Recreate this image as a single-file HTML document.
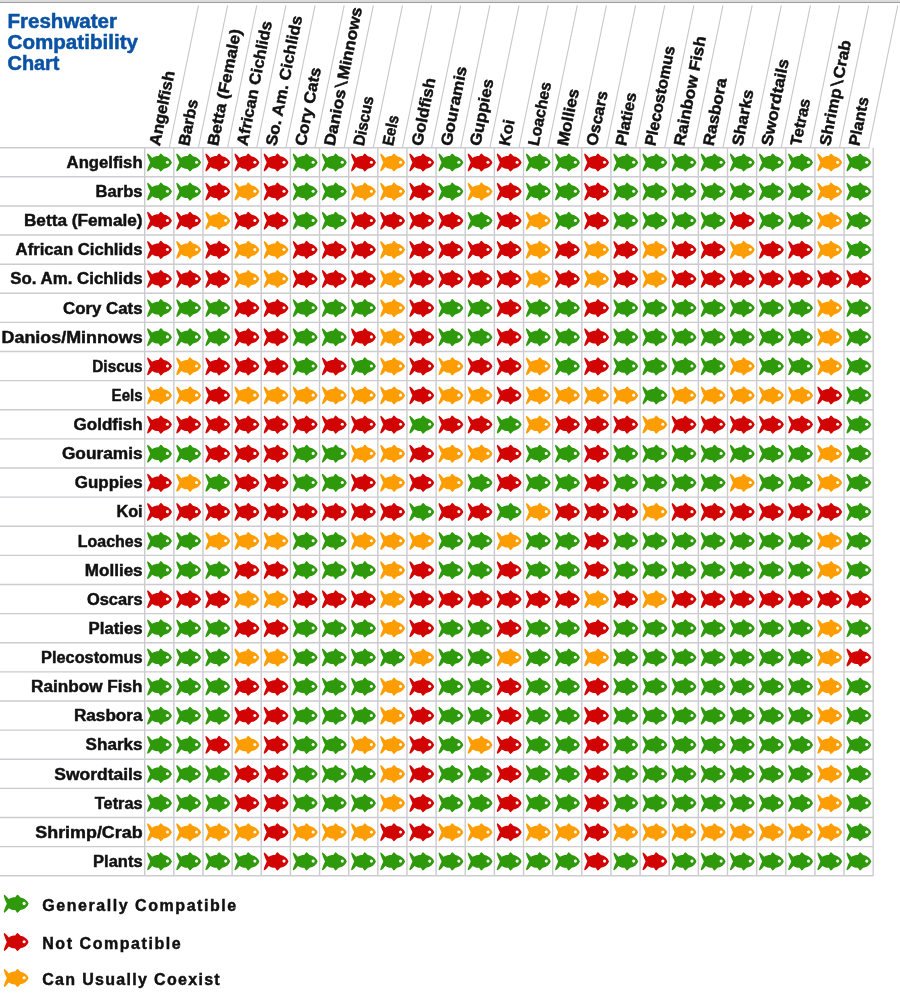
<!DOCTYPE html><html><head><meta charset="utf-8"><style>html,body{margin:0;padding:0;background:#fff;}svg{display:block;filter:blur(0.3px);}text{font-family:"Liberation Sans",sans-serif;font-weight:bold;}</style></head><body>
<svg width="900" height="1000" viewBox="0 0 900 1000">
<defs><g id="f"><path d="M0.3,-8.95 C1.9,-7.9 3.3,-6.2 4.6,-4.6 C6.4,-5.9 8.5,-6.4 11,-6.4 L12.7,-8.8 Q13.3,-9.4 14.0,-8.6 L16.3,-6.3 C20.2,-5.6 23.2,-3.4 24.4,0 C23.2,3.4 20.2,5.6 16.3,6.3 L14.0,8.6 Q13.3,9.4 12.7,8.8 L11,6.4 C8.5,6.4 6.4,5.9 4.6,4.6 C3.3,6.2 1.9,7.9 0.3,8.95 Q-0.5,8.9 -0.4,7.8 C0.3,5 1.6,2.2 2.6,0 C1.6,-2.2 0.3,-5 -0.4,-7.8 Q-0.5,-8.9 0.3,-8.95 Z"/><circle cx="19.9" cy="-0.3" r="1.55" fill="#fff"/></g></defs>
<rect x="0" y="0" width="900" height="2" fill="#dcdcdc"/><rect x="0" y="2" width="900" height="1" fill="#9c9c9c"/>
<g fill="#0a52a3" stroke="#0a52a3" stroke-width="0.5" font-size="19.5">
<text x="7.5" y="28" textLength="109.5" lengthAdjust="spacingAndGlyphs">Freshwater</text>
<text x="7.5" y="49" textLength="130.5" lengthAdjust="spacingAndGlyphs">Compatibility</text>
<text x="7.5" y="70" textLength="52" lengthAdjust="spacingAndGlyphs">Chart</text>
</g>
<g stroke="#cbcbd0" stroke-width="1.4" fill="none">
<line x1="0" y1="147.70" x2="869.50" y2="147.70"/>
<line x1="0" y1="176.82" x2="873.20" y2="176.82"/>
<line x1="0" y1="205.94" x2="873.20" y2="205.94"/>
<line x1="0" y1="235.06" x2="873.20" y2="235.06"/>
<line x1="0" y1="264.18" x2="873.20" y2="264.18"/>
<line x1="0" y1="293.30" x2="873.20" y2="293.30"/>
<line x1="0" y1="322.42" x2="873.20" y2="322.42"/>
<line x1="0" y1="351.54" x2="873.20" y2="351.54"/>
<line x1="0" y1="380.66" x2="873.20" y2="380.66"/>
<line x1="0" y1="409.78" x2="873.20" y2="409.78"/>
<line x1="0" y1="438.90" x2="873.20" y2="438.90"/>
<line x1="0" y1="468.02" x2="873.20" y2="468.02"/>
<line x1="0" y1="497.14" x2="873.20" y2="497.14"/>
<line x1="0" y1="526.26" x2="873.20" y2="526.26"/>
<line x1="0" y1="555.38" x2="873.20" y2="555.38"/>
<line x1="0" y1="584.50" x2="873.20" y2="584.50"/>
<line x1="0" y1="613.62" x2="873.20" y2="613.62"/>
<line x1="0" y1="642.74" x2="873.20" y2="642.74"/>
<line x1="0" y1="671.86" x2="873.20" y2="671.86"/>
<line x1="0" y1="700.98" x2="873.20" y2="700.98"/>
<line x1="0" y1="730.10" x2="873.20" y2="730.10"/>
<line x1="0" y1="759.22" x2="873.20" y2="759.22"/>
<line x1="0" y1="788.34" x2="873.20" y2="788.34"/>
<line x1="0" y1="817.46" x2="873.20" y2="817.46"/>
<line x1="0" y1="846.58" x2="873.20" y2="846.58"/>
<line x1="0" y1="875.70" x2="873.20" y2="875.70"/>
<line x1="144.70" y1="147.70" x2="144.70" y2="875.70"/>
<line x1="173.84" y1="147.70" x2="173.84" y2="875.70"/>
<line x1="202.98" y1="147.70" x2="202.98" y2="875.70"/>
<line x1="232.12" y1="147.70" x2="232.12" y2="875.70"/>
<line x1="261.26" y1="147.70" x2="261.26" y2="875.70"/>
<line x1="290.40" y1="147.70" x2="290.40" y2="875.70"/>
<line x1="319.54" y1="147.70" x2="319.54" y2="875.70"/>
<line x1="348.68" y1="147.70" x2="348.68" y2="875.70"/>
<line x1="377.82" y1="147.70" x2="377.82" y2="875.70"/>
<line x1="406.96" y1="147.70" x2="406.96" y2="875.70"/>
<line x1="436.10" y1="147.70" x2="436.10" y2="875.70"/>
<line x1="465.24" y1="147.70" x2="465.24" y2="875.70"/>
<line x1="494.38" y1="147.70" x2="494.38" y2="875.70"/>
<line x1="523.52" y1="147.70" x2="523.52" y2="875.70"/>
<line x1="552.66" y1="147.70" x2="552.66" y2="875.70"/>
<line x1="581.80" y1="147.70" x2="581.80" y2="875.70"/>
<line x1="610.94" y1="147.70" x2="610.94" y2="875.70"/>
<line x1="640.08" y1="147.70" x2="640.08" y2="875.70"/>
<line x1="669.22" y1="147.70" x2="669.22" y2="875.70"/>
<line x1="698.36" y1="147.70" x2="698.36" y2="875.70"/>
<line x1="727.50" y1="147.70" x2="727.50" y2="875.70"/>
<line x1="756.64" y1="147.70" x2="756.64" y2="875.70"/>
<line x1="785.78" y1="147.70" x2="785.78" y2="875.70"/>
<line x1="814.92" y1="147.70" x2="814.92" y2="875.70"/>
<line x1="844.06" y1="147.70" x2="844.06" y2="875.70"/>
<line x1="873.20" y1="147.70" x2="873.20" y2="875.70"/>
</g>
<g stroke="#c8c8c8" stroke-width="1.1">
<line x1="169.30" y1="147.70" x2="198.50" y2="5.3"/>
<line x1="198.44" y1="147.70" x2="227.64" y2="5.3"/>
<line x1="227.58" y1="147.70" x2="256.78" y2="5.3"/>
<line x1="256.72" y1="147.70" x2="285.92" y2="5.3"/>
<line x1="285.86" y1="147.70" x2="315.06" y2="5.3"/>
<line x1="315.00" y1="147.70" x2="344.20" y2="5.3"/>
<line x1="344.14" y1="147.70" x2="373.34" y2="5.3"/>
<line x1="373.28" y1="147.70" x2="402.48" y2="5.3"/>
<line x1="402.42" y1="147.70" x2="431.62" y2="5.3"/>
<line x1="431.56" y1="147.70" x2="460.76" y2="5.3"/>
<line x1="460.70" y1="147.70" x2="489.90" y2="5.3"/>
<line x1="489.84" y1="147.70" x2="519.04" y2="5.3"/>
<line x1="518.98" y1="147.70" x2="548.18" y2="5.3"/>
<line x1="548.12" y1="147.70" x2="577.32" y2="5.3"/>
<line x1="577.26" y1="147.70" x2="606.46" y2="5.3"/>
<line x1="606.40" y1="147.70" x2="635.60" y2="5.3"/>
<line x1="635.54" y1="147.70" x2="664.74" y2="5.3"/>
<line x1="664.68" y1="147.70" x2="693.88" y2="5.3"/>
<line x1="693.82" y1="147.70" x2="723.02" y2="5.3"/>
<line x1="722.96" y1="147.70" x2="752.16" y2="5.3"/>
<line x1="752.10" y1="147.70" x2="781.30" y2="5.3"/>
<line x1="781.24" y1="147.70" x2="810.44" y2="5.3"/>
<line x1="810.38" y1="147.70" x2="839.58" y2="5.3"/>
<line x1="839.52" y1="147.70" x2="868.72" y2="5.3"/>
<line x1="868.66" y1="147.70" x2="897.86" y2="5.3"/>
</g>
<g fill="#111" stroke="#111" stroke-width="0.45" font-size="15.8" text-anchor="end">
<text x="142.6" y="168.00" textLength="76" lengthAdjust="spacingAndGlyphs">Angelfish</text>
<text x="142.6" y="197.12" textLength="47" lengthAdjust="spacingAndGlyphs">Barbs</text>
<text x="142.6" y="226.24" textLength="118.7" lengthAdjust="spacingAndGlyphs">Betta (Female)</text>
<text x="142.6" y="255.36" textLength="127" lengthAdjust="spacingAndGlyphs">African Cichlids</text>
<text x="142.6" y="284.48" textLength="132.3" lengthAdjust="spacingAndGlyphs">So. Am. Cichlids</text>
<text x="142.6" y="313.60" textLength="79.5" lengthAdjust="spacingAndGlyphs">Cory Cats</text>
<text x="142.6" y="342.72" textLength="141" lengthAdjust="spacingAndGlyphs">Danios/Minnows</text>
<text x="142.6" y="371.84" textLength="50.3" lengthAdjust="spacingAndGlyphs">Discus</text>
<text x="142.6" y="400.96" textLength="31" lengthAdjust="spacingAndGlyphs">Eels</text>
<text x="142.6" y="430.08" textLength="69" lengthAdjust="spacingAndGlyphs">Goldfish</text>
<text x="142.6" y="459.20" textLength="80.7" lengthAdjust="spacingAndGlyphs">Gouramis</text>
<text x="142.6" y="488.32" textLength="67.8" lengthAdjust="spacingAndGlyphs">Guppies</text>
<text x="142.6" y="517.44" textLength="26.2" lengthAdjust="spacingAndGlyphs">Koi</text>
<text x="142.6" y="546.56" textLength="64.8" lengthAdjust="spacingAndGlyphs">Loaches</text>
<text x="142.6" y="575.68" textLength="57.8" lengthAdjust="spacingAndGlyphs">Mollies</text>
<text x="142.6" y="604.80" textLength="55.7" lengthAdjust="spacingAndGlyphs">Oscars</text>
<text x="142.6" y="633.92" textLength="54" lengthAdjust="spacingAndGlyphs">Platies</text>
<text x="142.6" y="663.04" textLength="101.5" lengthAdjust="spacingAndGlyphs">Plecostomus</text>
<text x="142.6" y="692.16" textLength="111.5" lengthAdjust="spacingAndGlyphs">Rainbow Fish</text>
<text x="142.6" y="721.28" textLength="68.7" lengthAdjust="spacingAndGlyphs">Rasbora</text>
<text x="142.6" y="750.40" textLength="57" lengthAdjust="spacingAndGlyphs">Sharks</text>
<text x="142.6" y="779.52" textLength="88.3" lengthAdjust="spacingAndGlyphs">Swordtails</text>
<text x="142.6" y="808.64" textLength="47.8" lengthAdjust="spacingAndGlyphs">Tetras</text>
<text x="142.6" y="837.76" textLength="107.3" lengthAdjust="spacingAndGlyphs">Shrimp/Crab</text>
<text x="142.6" y="866.88" textLength="49.5" lengthAdjust="spacingAndGlyphs">Plants</text>
</g>
<g fill="#111" stroke="#111" stroke-width="0.45" font-size="15.8">
<text transform="translate(159.77,146.6) rotate(-78.7)" textLength="76" lengthAdjust="spacingAndGlyphs">Angelfish</text>
<text transform="translate(188.91,146.6) rotate(-78.7)" textLength="47" lengthAdjust="spacingAndGlyphs">Barbs</text>
<text transform="translate(218.05,146.6) rotate(-78.7)" textLength="118.7" lengthAdjust="spacingAndGlyphs">Betta (Female)</text>
<text transform="translate(247.19,146.6) rotate(-78.7)" textLength="127" lengthAdjust="spacingAndGlyphs">African Cichlids</text>
<text transform="translate(276.33,146.6) rotate(-78.7)" textLength="132.3" lengthAdjust="spacingAndGlyphs">So. Am. Cichlids</text>
<text transform="translate(305.47,146.6) rotate(-78.7)" textLength="79.5" lengthAdjust="spacingAndGlyphs">Cory Cats</text>
<text transform="translate(334.61,146.6) rotate(-78.7)" textLength="141" lengthAdjust="spacingAndGlyphs">Danios<tspan font-family="Liberation Mono">\</tspan>Minnows</text>
<text transform="translate(363.75,146.6) rotate(-78.7)" textLength="50.3" lengthAdjust="spacingAndGlyphs">Discus</text>
<text transform="translate(392.89,146.6) rotate(-78.7)" textLength="31" lengthAdjust="spacingAndGlyphs">Eels</text>
<text transform="translate(422.03,146.6) rotate(-78.7)" textLength="69" lengthAdjust="spacingAndGlyphs">Goldfish</text>
<text transform="translate(451.17,146.6) rotate(-78.7)" textLength="80.7" lengthAdjust="spacingAndGlyphs">Gouramis</text>
<text transform="translate(480.31,146.6) rotate(-78.7)" textLength="67.8" lengthAdjust="spacingAndGlyphs">Guppies</text>
<text transform="translate(509.45,146.6) rotate(-78.7)" textLength="26.2" lengthAdjust="spacingAndGlyphs">Koi</text>
<text transform="translate(538.59,146.6) rotate(-78.7)" textLength="64.8" lengthAdjust="spacingAndGlyphs">Loaches</text>
<text transform="translate(567.73,146.6) rotate(-78.7)" textLength="57.8" lengthAdjust="spacingAndGlyphs">Mollies</text>
<text transform="translate(596.87,146.6) rotate(-78.7)" textLength="55.7" lengthAdjust="spacingAndGlyphs">Oscars</text>
<text transform="translate(626.01,146.6) rotate(-78.7)" textLength="54" lengthAdjust="spacingAndGlyphs">Platies</text>
<text transform="translate(655.15,146.6) rotate(-78.7)" textLength="101.5" lengthAdjust="spacingAndGlyphs">Plecostomus</text>
<text transform="translate(684.29,146.6) rotate(-78.7)" textLength="111.5" lengthAdjust="spacingAndGlyphs">Rainbow Fish</text>
<text transform="translate(713.43,146.6) rotate(-78.7)" textLength="68.7" lengthAdjust="spacingAndGlyphs">Rasbora</text>
<text transform="translate(742.57,146.6) rotate(-78.7)" textLength="57" lengthAdjust="spacingAndGlyphs">Sharks</text>
<text transform="translate(771.71,146.6) rotate(-78.7)" textLength="88.3" lengthAdjust="spacingAndGlyphs">Swordtails</text>
<text transform="translate(800.85,146.6) rotate(-78.7)" textLength="47.8" lengthAdjust="spacingAndGlyphs">Tetras</text>
<text transform="translate(829.99,146.6) rotate(-78.7)" textLength="107.3" lengthAdjust="spacingAndGlyphs">Shrimp<tspan font-family="Liberation Mono">\</tspan>Crab</text>
<text transform="translate(859.13,146.6) rotate(-78.7)" textLength="49.5" lengthAdjust="spacingAndGlyphs">Plants</text>
</g>
<use href="#f" x="147.55" y="162.50" fill="#2f990c"/>
<use href="#f" x="176.69" y="162.50" fill="#2f990c"/>
<use href="#f" x="205.83" y="162.50" fill="#d20303"/>
<use href="#f" x="234.97" y="162.50" fill="#d20303"/>
<use href="#f" x="264.11" y="162.50" fill="#d20303"/>
<use href="#f" x="293.25" y="162.50" fill="#2f990c"/>
<use href="#f" x="322.39" y="162.50" fill="#2f990c"/>
<use href="#f" x="351.53" y="162.50" fill="#d20303"/>
<use href="#f" x="380.67" y="162.50" fill="#fd9d02"/>
<use href="#f" x="409.81" y="162.50" fill="#d20303"/>
<use href="#f" x="438.95" y="162.50" fill="#2f990c"/>
<use href="#f" x="468.09" y="162.50" fill="#d20303"/>
<use href="#f" x="497.23" y="162.50" fill="#d20303"/>
<use href="#f" x="526.37" y="162.50" fill="#2f990c"/>
<use href="#f" x="555.51" y="162.50" fill="#2f990c"/>
<use href="#f" x="584.65" y="162.50" fill="#d20303"/>
<use href="#f" x="613.79" y="162.50" fill="#2f990c"/>
<use href="#f" x="642.93" y="162.50" fill="#2f990c"/>
<use href="#f" x="672.07" y="162.50" fill="#2f990c"/>
<use href="#f" x="701.21" y="162.50" fill="#2f990c"/>
<use href="#f" x="730.35" y="162.50" fill="#2f990c"/>
<use href="#f" x="759.49" y="162.50" fill="#2f990c"/>
<use href="#f" x="788.63" y="162.50" fill="#2f990c"/>
<use href="#f" x="817.77" y="162.50" fill="#fd9d02"/>
<use href="#f" x="846.91" y="162.50" fill="#2f990c"/>
<use href="#f" x="147.55" y="191.62" fill="#2f990c"/>
<use href="#f" x="176.69" y="191.62" fill="#2f990c"/>
<use href="#f" x="205.83" y="191.62" fill="#d20303"/>
<use href="#f" x="234.97" y="191.62" fill="#fd9d02"/>
<use href="#f" x="264.11" y="191.62" fill="#d20303"/>
<use href="#f" x="293.25" y="191.62" fill="#2f990c"/>
<use href="#f" x="322.39" y="191.62" fill="#2f990c"/>
<use href="#f" x="351.53" y="191.62" fill="#fd9d02"/>
<use href="#f" x="380.67" y="191.62" fill="#fd9d02"/>
<use href="#f" x="409.81" y="191.62" fill="#d20303"/>
<use href="#f" x="438.95" y="191.62" fill="#2f990c"/>
<use href="#f" x="468.09" y="191.62" fill="#fd9d02"/>
<use href="#f" x="497.23" y="191.62" fill="#d20303"/>
<use href="#f" x="526.37" y="191.62" fill="#2f990c"/>
<use href="#f" x="555.51" y="191.62" fill="#2f990c"/>
<use href="#f" x="584.65" y="191.62" fill="#d20303"/>
<use href="#f" x="613.79" y="191.62" fill="#2f990c"/>
<use href="#f" x="642.93" y="191.62" fill="#2f990c"/>
<use href="#f" x="672.07" y="191.62" fill="#2f990c"/>
<use href="#f" x="701.21" y="191.62" fill="#2f990c"/>
<use href="#f" x="730.35" y="191.62" fill="#2f990c"/>
<use href="#f" x="759.49" y="191.62" fill="#2f990c"/>
<use href="#f" x="788.63" y="191.62" fill="#2f990c"/>
<use href="#f" x="817.77" y="191.62" fill="#fd9d02"/>
<use href="#f" x="846.91" y="191.62" fill="#2f990c"/>
<use href="#f" x="147.55" y="220.74" fill="#d20303"/>
<use href="#f" x="176.69" y="220.74" fill="#d20303"/>
<use href="#f" x="205.83" y="220.74" fill="#fd9d02"/>
<use href="#f" x="234.97" y="220.74" fill="#d20303"/>
<use href="#f" x="264.11" y="220.74" fill="#d20303"/>
<use href="#f" x="293.25" y="220.74" fill="#2f990c"/>
<use href="#f" x="322.39" y="220.74" fill="#2f990c"/>
<use href="#f" x="351.53" y="220.74" fill="#d20303"/>
<use href="#f" x="380.67" y="220.74" fill="#d20303"/>
<use href="#f" x="409.81" y="220.74" fill="#d20303"/>
<use href="#f" x="438.95" y="220.74" fill="#d20303"/>
<use href="#f" x="468.09" y="220.74" fill="#2f990c"/>
<use href="#f" x="497.23" y="220.74" fill="#d20303"/>
<use href="#f" x="526.37" y="220.74" fill="#fd9d02"/>
<use href="#f" x="555.51" y="220.74" fill="#2f990c"/>
<use href="#f" x="584.65" y="220.74" fill="#d20303"/>
<use href="#f" x="613.79" y="220.74" fill="#2f990c"/>
<use href="#f" x="642.93" y="220.74" fill="#2f990c"/>
<use href="#f" x="672.07" y="220.74" fill="#2f990c"/>
<use href="#f" x="701.21" y="220.74" fill="#2f990c"/>
<use href="#f" x="730.35" y="220.74" fill="#d20303"/>
<use href="#f" x="759.49" y="220.74" fill="#2f990c"/>
<use href="#f" x="788.63" y="220.74" fill="#2f990c"/>
<use href="#f" x="817.77" y="220.74" fill="#fd9d02"/>
<use href="#f" x="846.91" y="220.74" fill="#2f990c"/>
<use href="#f" x="147.55" y="249.86" fill="#d20303"/>
<use href="#f" x="176.69" y="249.86" fill="#fd9d02"/>
<use href="#f" x="205.83" y="249.86" fill="#d20303"/>
<use href="#f" x="234.97" y="249.86" fill="#fd9d02"/>
<use href="#f" x="264.11" y="249.86" fill="#fd9d02"/>
<use href="#f" x="293.25" y="249.86" fill="#d20303"/>
<use href="#f" x="322.39" y="249.86" fill="#d20303"/>
<use href="#f" x="351.53" y="249.86" fill="#d20303"/>
<use href="#f" x="380.67" y="249.86" fill="#fd9d02"/>
<use href="#f" x="409.81" y="249.86" fill="#d20303"/>
<use href="#f" x="438.95" y="249.86" fill="#d20303"/>
<use href="#f" x="468.09" y="249.86" fill="#d20303"/>
<use href="#f" x="497.23" y="249.86" fill="#d20303"/>
<use href="#f" x="526.37" y="249.86" fill="#fd9d02"/>
<use href="#f" x="555.51" y="249.86" fill="#d20303"/>
<use href="#f" x="584.65" y="249.86" fill="#fd9d02"/>
<use href="#f" x="613.79" y="249.86" fill="#d20303"/>
<use href="#f" x="642.93" y="249.86" fill="#fd9d02"/>
<use href="#f" x="672.07" y="249.86" fill="#d20303"/>
<use href="#f" x="701.21" y="249.86" fill="#d20303"/>
<use href="#f" x="730.35" y="249.86" fill="#fd9d02"/>
<use href="#f" x="759.49" y="249.86" fill="#d20303"/>
<use href="#f" x="788.63" y="249.86" fill="#d20303"/>
<use href="#f" x="817.77" y="249.86" fill="#fd9d02"/>
<use href="#f" x="846.91" y="249.86" fill="#2f990c"/>
<use href="#f" x="147.55" y="278.98" fill="#d20303"/>
<use href="#f" x="176.69" y="278.98" fill="#d20303"/>
<use href="#f" x="205.83" y="278.98" fill="#d20303"/>
<use href="#f" x="234.97" y="278.98" fill="#fd9d02"/>
<use href="#f" x="264.11" y="278.98" fill="#fd9d02"/>
<use href="#f" x="293.25" y="278.98" fill="#d20303"/>
<use href="#f" x="322.39" y="278.98" fill="#d20303"/>
<use href="#f" x="351.53" y="278.98" fill="#d20303"/>
<use href="#f" x="380.67" y="278.98" fill="#fd9d02"/>
<use href="#f" x="409.81" y="278.98" fill="#d20303"/>
<use href="#f" x="438.95" y="278.98" fill="#d20303"/>
<use href="#f" x="468.09" y="278.98" fill="#d20303"/>
<use href="#f" x="497.23" y="278.98" fill="#d20303"/>
<use href="#f" x="526.37" y="278.98" fill="#fd9d02"/>
<use href="#f" x="555.51" y="278.98" fill="#d20303"/>
<use href="#f" x="584.65" y="278.98" fill="#fd9d02"/>
<use href="#f" x="613.79" y="278.98" fill="#d20303"/>
<use href="#f" x="642.93" y="278.98" fill="#fd9d02"/>
<use href="#f" x="672.07" y="278.98" fill="#d20303"/>
<use href="#f" x="701.21" y="278.98" fill="#d20303"/>
<use href="#f" x="730.35" y="278.98" fill="#d20303"/>
<use href="#f" x="759.49" y="278.98" fill="#d20303"/>
<use href="#f" x="788.63" y="278.98" fill="#d20303"/>
<use href="#f" x="817.77" y="278.98" fill="#d20303"/>
<use href="#f" x="846.91" y="278.98" fill="#d20303"/>
<use href="#f" x="147.55" y="308.10" fill="#2f990c"/>
<use href="#f" x="176.69" y="308.10" fill="#2f990c"/>
<use href="#f" x="205.83" y="308.10" fill="#2f990c"/>
<use href="#f" x="234.97" y="308.10" fill="#d20303"/>
<use href="#f" x="264.11" y="308.10" fill="#d20303"/>
<use href="#f" x="293.25" y="308.10" fill="#2f990c"/>
<use href="#f" x="322.39" y="308.10" fill="#2f990c"/>
<use href="#f" x="351.53" y="308.10" fill="#2f990c"/>
<use href="#f" x="380.67" y="308.10" fill="#fd9d02"/>
<use href="#f" x="409.81" y="308.10" fill="#d20303"/>
<use href="#f" x="438.95" y="308.10" fill="#2f990c"/>
<use href="#f" x="468.09" y="308.10" fill="#2f990c"/>
<use href="#f" x="497.23" y="308.10" fill="#d20303"/>
<use href="#f" x="526.37" y="308.10" fill="#2f990c"/>
<use href="#f" x="555.51" y="308.10" fill="#2f990c"/>
<use href="#f" x="584.65" y="308.10" fill="#d20303"/>
<use href="#f" x="613.79" y="308.10" fill="#2f990c"/>
<use href="#f" x="642.93" y="308.10" fill="#2f990c"/>
<use href="#f" x="672.07" y="308.10" fill="#2f990c"/>
<use href="#f" x="701.21" y="308.10" fill="#2f990c"/>
<use href="#f" x="730.35" y="308.10" fill="#2f990c"/>
<use href="#f" x="759.49" y="308.10" fill="#2f990c"/>
<use href="#f" x="788.63" y="308.10" fill="#2f990c"/>
<use href="#f" x="817.77" y="308.10" fill="#fd9d02"/>
<use href="#f" x="846.91" y="308.10" fill="#2f990c"/>
<use href="#f" x="147.55" y="337.22" fill="#2f990c"/>
<use href="#f" x="176.69" y="337.22" fill="#2f990c"/>
<use href="#f" x="205.83" y="337.22" fill="#2f990c"/>
<use href="#f" x="234.97" y="337.22" fill="#d20303"/>
<use href="#f" x="264.11" y="337.22" fill="#d20303"/>
<use href="#f" x="293.25" y="337.22" fill="#2f990c"/>
<use href="#f" x="322.39" y="337.22" fill="#2f990c"/>
<use href="#f" x="351.53" y="337.22" fill="#d20303"/>
<use href="#f" x="380.67" y="337.22" fill="#fd9d02"/>
<use href="#f" x="409.81" y="337.22" fill="#d20303"/>
<use href="#f" x="438.95" y="337.22" fill="#2f990c"/>
<use href="#f" x="468.09" y="337.22" fill="#2f990c"/>
<use href="#f" x="497.23" y="337.22" fill="#d20303"/>
<use href="#f" x="526.37" y="337.22" fill="#2f990c"/>
<use href="#f" x="555.51" y="337.22" fill="#2f990c"/>
<use href="#f" x="584.65" y="337.22" fill="#d20303"/>
<use href="#f" x="613.79" y="337.22" fill="#2f990c"/>
<use href="#f" x="642.93" y="337.22" fill="#2f990c"/>
<use href="#f" x="672.07" y="337.22" fill="#2f990c"/>
<use href="#f" x="701.21" y="337.22" fill="#2f990c"/>
<use href="#f" x="730.35" y="337.22" fill="#2f990c"/>
<use href="#f" x="759.49" y="337.22" fill="#2f990c"/>
<use href="#f" x="788.63" y="337.22" fill="#2f990c"/>
<use href="#f" x="817.77" y="337.22" fill="#fd9d02"/>
<use href="#f" x="846.91" y="337.22" fill="#2f990c"/>
<use href="#f" x="147.55" y="366.34" fill="#d20303"/>
<use href="#f" x="176.69" y="366.34" fill="#fd9d02"/>
<use href="#f" x="205.83" y="366.34" fill="#d20303"/>
<use href="#f" x="234.97" y="366.34" fill="#d20303"/>
<use href="#f" x="264.11" y="366.34" fill="#d20303"/>
<use href="#f" x="293.25" y="366.34" fill="#2f990c"/>
<use href="#f" x="322.39" y="366.34" fill="#d20303"/>
<use href="#f" x="351.53" y="366.34" fill="#2f990c"/>
<use href="#f" x="380.67" y="366.34" fill="#fd9d02"/>
<use href="#f" x="409.81" y="366.34" fill="#d20303"/>
<use href="#f" x="438.95" y="366.34" fill="#fd9d02"/>
<use href="#f" x="468.09" y="366.34" fill="#d20303"/>
<use href="#f" x="497.23" y="366.34" fill="#d20303"/>
<use href="#f" x="526.37" y="366.34" fill="#fd9d02"/>
<use href="#f" x="555.51" y="366.34" fill="#2f990c"/>
<use href="#f" x="584.65" y="366.34" fill="#d20303"/>
<use href="#f" x="613.79" y="366.34" fill="#2f990c"/>
<use href="#f" x="642.93" y="366.34" fill="#2f990c"/>
<use href="#f" x="672.07" y="366.34" fill="#2f990c"/>
<use href="#f" x="701.21" y="366.34" fill="#2f990c"/>
<use href="#f" x="730.35" y="366.34" fill="#fd9d02"/>
<use href="#f" x="759.49" y="366.34" fill="#2f990c"/>
<use href="#f" x="788.63" y="366.34" fill="#2f990c"/>
<use href="#f" x="817.77" y="366.34" fill="#fd9d02"/>
<use href="#f" x="846.91" y="366.34" fill="#2f990c"/>
<use href="#f" x="147.55" y="395.46" fill="#fd9d02"/>
<use href="#f" x="176.69" y="395.46" fill="#fd9d02"/>
<use href="#f" x="205.83" y="395.46" fill="#d20303"/>
<use href="#f" x="234.97" y="395.46" fill="#fd9d02"/>
<use href="#f" x="264.11" y="395.46" fill="#fd9d02"/>
<use href="#f" x="293.25" y="395.46" fill="#fd9d02"/>
<use href="#f" x="322.39" y="395.46" fill="#fd9d02"/>
<use href="#f" x="351.53" y="395.46" fill="#fd9d02"/>
<use href="#f" x="380.67" y="395.46" fill="#fd9d02"/>
<use href="#f" x="409.81" y="395.46" fill="#d20303"/>
<use href="#f" x="438.95" y="395.46" fill="#fd9d02"/>
<use href="#f" x="468.09" y="395.46" fill="#fd9d02"/>
<use href="#f" x="497.23" y="395.46" fill="#d20303"/>
<use href="#f" x="526.37" y="395.46" fill="#fd9d02"/>
<use href="#f" x="555.51" y="395.46" fill="#fd9d02"/>
<use href="#f" x="584.65" y="395.46" fill="#fd9d02"/>
<use href="#f" x="613.79" y="395.46" fill="#fd9d02"/>
<use href="#f" x="642.93" y="395.46" fill="#2f990c"/>
<use href="#f" x="672.07" y="395.46" fill="#fd9d02"/>
<use href="#f" x="701.21" y="395.46" fill="#fd9d02"/>
<use href="#f" x="730.35" y="395.46" fill="#fd9d02"/>
<use href="#f" x="759.49" y="395.46" fill="#fd9d02"/>
<use href="#f" x="788.63" y="395.46" fill="#fd9d02"/>
<use href="#f" x="817.77" y="395.46" fill="#d20303"/>
<use href="#f" x="846.91" y="395.46" fill="#2f990c"/>
<use href="#f" x="147.55" y="424.58" fill="#d20303"/>
<use href="#f" x="176.69" y="424.58" fill="#d20303"/>
<use href="#f" x="205.83" y="424.58" fill="#d20303"/>
<use href="#f" x="234.97" y="424.58" fill="#d20303"/>
<use href="#f" x="264.11" y="424.58" fill="#d20303"/>
<use href="#f" x="293.25" y="424.58" fill="#d20303"/>
<use href="#f" x="322.39" y="424.58" fill="#d20303"/>
<use href="#f" x="351.53" y="424.58" fill="#d20303"/>
<use href="#f" x="380.67" y="424.58" fill="#d20303"/>
<use href="#f" x="409.81" y="424.58" fill="#2f990c"/>
<use href="#f" x="438.95" y="424.58" fill="#d20303"/>
<use href="#f" x="468.09" y="424.58" fill="#d20303"/>
<use href="#f" x="497.23" y="424.58" fill="#2f990c"/>
<use href="#f" x="526.37" y="424.58" fill="#fd9d02"/>
<use href="#f" x="555.51" y="424.58" fill="#d20303"/>
<use href="#f" x="584.65" y="424.58" fill="#d20303"/>
<use href="#f" x="613.79" y="424.58" fill="#d20303"/>
<use href="#f" x="642.93" y="424.58" fill="#fd9d02"/>
<use href="#f" x="672.07" y="424.58" fill="#d20303"/>
<use href="#f" x="701.21" y="424.58" fill="#d20303"/>
<use href="#f" x="730.35" y="424.58" fill="#d20303"/>
<use href="#f" x="759.49" y="424.58" fill="#d20303"/>
<use href="#f" x="788.63" y="424.58" fill="#d20303"/>
<use href="#f" x="817.77" y="424.58" fill="#d20303"/>
<use href="#f" x="846.91" y="424.58" fill="#2f990c"/>
<use href="#f" x="147.55" y="453.70" fill="#2f990c"/>
<use href="#f" x="176.69" y="453.70" fill="#2f990c"/>
<use href="#f" x="205.83" y="453.70" fill="#d20303"/>
<use href="#f" x="234.97" y="453.70" fill="#d20303"/>
<use href="#f" x="264.11" y="453.70" fill="#d20303"/>
<use href="#f" x="293.25" y="453.70" fill="#2f990c"/>
<use href="#f" x="322.39" y="453.70" fill="#2f990c"/>
<use href="#f" x="351.53" y="453.70" fill="#fd9d02"/>
<use href="#f" x="380.67" y="453.70" fill="#fd9d02"/>
<use href="#f" x="409.81" y="453.70" fill="#d20303"/>
<use href="#f" x="438.95" y="453.70" fill="#fd9d02"/>
<use href="#f" x="468.09" y="453.70" fill="#fd9d02"/>
<use href="#f" x="497.23" y="453.70" fill="#d20303"/>
<use href="#f" x="526.37" y="453.70" fill="#2f990c"/>
<use href="#f" x="555.51" y="453.70" fill="#2f990c"/>
<use href="#f" x="584.65" y="453.70" fill="#d20303"/>
<use href="#f" x="613.79" y="453.70" fill="#2f990c"/>
<use href="#f" x="642.93" y="453.70" fill="#2f990c"/>
<use href="#f" x="672.07" y="453.70" fill="#2f990c"/>
<use href="#f" x="701.21" y="453.70" fill="#2f990c"/>
<use href="#f" x="730.35" y="453.70" fill="#2f990c"/>
<use href="#f" x="759.49" y="453.70" fill="#2f990c"/>
<use href="#f" x="788.63" y="453.70" fill="#2f990c"/>
<use href="#f" x="817.77" y="453.70" fill="#fd9d02"/>
<use href="#f" x="846.91" y="453.70" fill="#2f990c"/>
<use href="#f" x="147.55" y="482.82" fill="#d20303"/>
<use href="#f" x="176.69" y="482.82" fill="#fd9d02"/>
<use href="#f" x="205.83" y="482.82" fill="#2f990c"/>
<use href="#f" x="234.97" y="482.82" fill="#d20303"/>
<use href="#f" x="264.11" y="482.82" fill="#d20303"/>
<use href="#f" x="293.25" y="482.82" fill="#2f990c"/>
<use href="#f" x="322.39" y="482.82" fill="#2f990c"/>
<use href="#f" x="351.53" y="482.82" fill="#d20303"/>
<use href="#f" x="380.67" y="482.82" fill="#fd9d02"/>
<use href="#f" x="409.81" y="482.82" fill="#d20303"/>
<use href="#f" x="438.95" y="482.82" fill="#fd9d02"/>
<use href="#f" x="468.09" y="482.82" fill="#2f990c"/>
<use href="#f" x="497.23" y="482.82" fill="#d20303"/>
<use href="#f" x="526.37" y="482.82" fill="#2f990c"/>
<use href="#f" x="555.51" y="482.82" fill="#2f990c"/>
<use href="#f" x="584.65" y="482.82" fill="#d20303"/>
<use href="#f" x="613.79" y="482.82" fill="#2f990c"/>
<use href="#f" x="642.93" y="482.82" fill="#2f990c"/>
<use href="#f" x="672.07" y="482.82" fill="#2f990c"/>
<use href="#f" x="701.21" y="482.82" fill="#2f990c"/>
<use href="#f" x="730.35" y="482.82" fill="#fd9d02"/>
<use href="#f" x="759.49" y="482.82" fill="#2f990c"/>
<use href="#f" x="788.63" y="482.82" fill="#2f990c"/>
<use href="#f" x="817.77" y="482.82" fill="#fd9d02"/>
<use href="#f" x="846.91" y="482.82" fill="#2f990c"/>
<use href="#f" x="147.55" y="511.94" fill="#d20303"/>
<use href="#f" x="176.69" y="511.94" fill="#d20303"/>
<use href="#f" x="205.83" y="511.94" fill="#d20303"/>
<use href="#f" x="234.97" y="511.94" fill="#d20303"/>
<use href="#f" x="264.11" y="511.94" fill="#d20303"/>
<use href="#f" x="293.25" y="511.94" fill="#d20303"/>
<use href="#f" x="322.39" y="511.94" fill="#d20303"/>
<use href="#f" x="351.53" y="511.94" fill="#d20303"/>
<use href="#f" x="380.67" y="511.94" fill="#d20303"/>
<use href="#f" x="409.81" y="511.94" fill="#2f990c"/>
<use href="#f" x="438.95" y="511.94" fill="#d20303"/>
<use href="#f" x="468.09" y="511.94" fill="#d20303"/>
<use href="#f" x="497.23" y="511.94" fill="#2f990c"/>
<use href="#f" x="526.37" y="511.94" fill="#fd9d02"/>
<use href="#f" x="555.51" y="511.94" fill="#d20303"/>
<use href="#f" x="584.65" y="511.94" fill="#d20303"/>
<use href="#f" x="613.79" y="511.94" fill="#d20303"/>
<use href="#f" x="642.93" y="511.94" fill="#fd9d02"/>
<use href="#f" x="672.07" y="511.94" fill="#d20303"/>
<use href="#f" x="701.21" y="511.94" fill="#d20303"/>
<use href="#f" x="730.35" y="511.94" fill="#d20303"/>
<use href="#f" x="759.49" y="511.94" fill="#d20303"/>
<use href="#f" x="788.63" y="511.94" fill="#d20303"/>
<use href="#f" x="817.77" y="511.94" fill="#d20303"/>
<use href="#f" x="846.91" y="511.94" fill="#2f990c"/>
<use href="#f" x="147.55" y="541.06" fill="#2f990c"/>
<use href="#f" x="176.69" y="541.06" fill="#2f990c"/>
<use href="#f" x="205.83" y="541.06" fill="#fd9d02"/>
<use href="#f" x="234.97" y="541.06" fill="#fd9d02"/>
<use href="#f" x="264.11" y="541.06" fill="#fd9d02"/>
<use href="#f" x="293.25" y="541.06" fill="#2f990c"/>
<use href="#f" x="322.39" y="541.06" fill="#2f990c"/>
<use href="#f" x="351.53" y="541.06" fill="#fd9d02"/>
<use href="#f" x="380.67" y="541.06" fill="#fd9d02"/>
<use href="#f" x="409.81" y="541.06" fill="#fd9d02"/>
<use href="#f" x="438.95" y="541.06" fill="#2f990c"/>
<use href="#f" x="468.09" y="541.06" fill="#2f990c"/>
<use href="#f" x="497.23" y="541.06" fill="#fd9d02"/>
<use href="#f" x="526.37" y="541.06" fill="#2f990c"/>
<use href="#f" x="555.51" y="541.06" fill="#2f990c"/>
<use href="#f" x="584.65" y="541.06" fill="#d20303"/>
<use href="#f" x="613.79" y="541.06" fill="#2f990c"/>
<use href="#f" x="642.93" y="541.06" fill="#2f990c"/>
<use href="#f" x="672.07" y="541.06" fill="#2f990c"/>
<use href="#f" x="701.21" y="541.06" fill="#2f990c"/>
<use href="#f" x="730.35" y="541.06" fill="#2f990c"/>
<use href="#f" x="759.49" y="541.06" fill="#2f990c"/>
<use href="#f" x="788.63" y="541.06" fill="#2f990c"/>
<use href="#f" x="817.77" y="541.06" fill="#fd9d02"/>
<use href="#f" x="846.91" y="541.06" fill="#2f990c"/>
<use href="#f" x="147.55" y="570.18" fill="#2f990c"/>
<use href="#f" x="176.69" y="570.18" fill="#2f990c"/>
<use href="#f" x="205.83" y="570.18" fill="#2f990c"/>
<use href="#f" x="234.97" y="570.18" fill="#d20303"/>
<use href="#f" x="264.11" y="570.18" fill="#d20303"/>
<use href="#f" x="293.25" y="570.18" fill="#2f990c"/>
<use href="#f" x="322.39" y="570.18" fill="#2f990c"/>
<use href="#f" x="351.53" y="570.18" fill="#2f990c"/>
<use href="#f" x="380.67" y="570.18" fill="#fd9d02"/>
<use href="#f" x="409.81" y="570.18" fill="#d20303"/>
<use href="#f" x="438.95" y="570.18" fill="#2f990c"/>
<use href="#f" x="468.09" y="570.18" fill="#2f990c"/>
<use href="#f" x="497.23" y="570.18" fill="#d20303"/>
<use href="#f" x="526.37" y="570.18" fill="#2f990c"/>
<use href="#f" x="555.51" y="570.18" fill="#2f990c"/>
<use href="#f" x="584.65" y="570.18" fill="#d20303"/>
<use href="#f" x="613.79" y="570.18" fill="#2f990c"/>
<use href="#f" x="642.93" y="570.18" fill="#2f990c"/>
<use href="#f" x="672.07" y="570.18" fill="#2f990c"/>
<use href="#f" x="701.21" y="570.18" fill="#2f990c"/>
<use href="#f" x="730.35" y="570.18" fill="#2f990c"/>
<use href="#f" x="759.49" y="570.18" fill="#2f990c"/>
<use href="#f" x="788.63" y="570.18" fill="#2f990c"/>
<use href="#f" x="817.77" y="570.18" fill="#fd9d02"/>
<use href="#f" x="846.91" y="570.18" fill="#2f990c"/>
<use href="#f" x="147.55" y="599.30" fill="#d20303"/>
<use href="#f" x="176.69" y="599.30" fill="#d20303"/>
<use href="#f" x="205.83" y="599.30" fill="#d20303"/>
<use href="#f" x="234.97" y="599.30" fill="#fd9d02"/>
<use href="#f" x="264.11" y="599.30" fill="#fd9d02"/>
<use href="#f" x="293.25" y="599.30" fill="#d20303"/>
<use href="#f" x="322.39" y="599.30" fill="#d20303"/>
<use href="#f" x="351.53" y="599.30" fill="#d20303"/>
<use href="#f" x="380.67" y="599.30" fill="#fd9d02"/>
<use href="#f" x="409.81" y="599.30" fill="#d20303"/>
<use href="#f" x="438.95" y="599.30" fill="#d20303"/>
<use href="#f" x="468.09" y="599.30" fill="#d20303"/>
<use href="#f" x="497.23" y="599.30" fill="#d20303"/>
<use href="#f" x="526.37" y="599.30" fill="#d20303"/>
<use href="#f" x="555.51" y="599.30" fill="#d20303"/>
<use href="#f" x="584.65" y="599.30" fill="#fd9d02"/>
<use href="#f" x="613.79" y="599.30" fill="#d20303"/>
<use href="#f" x="642.93" y="599.30" fill="#fd9d02"/>
<use href="#f" x="672.07" y="599.30" fill="#d20303"/>
<use href="#f" x="701.21" y="599.30" fill="#d20303"/>
<use href="#f" x="730.35" y="599.30" fill="#d20303"/>
<use href="#f" x="759.49" y="599.30" fill="#d20303"/>
<use href="#f" x="788.63" y="599.30" fill="#d20303"/>
<use href="#f" x="817.77" y="599.30" fill="#d20303"/>
<use href="#f" x="846.91" y="599.30" fill="#d20303"/>
<use href="#f" x="147.55" y="628.42" fill="#2f990c"/>
<use href="#f" x="176.69" y="628.42" fill="#2f990c"/>
<use href="#f" x="205.83" y="628.42" fill="#2f990c"/>
<use href="#f" x="234.97" y="628.42" fill="#d20303"/>
<use href="#f" x="264.11" y="628.42" fill="#d20303"/>
<use href="#f" x="293.25" y="628.42" fill="#2f990c"/>
<use href="#f" x="322.39" y="628.42" fill="#2f990c"/>
<use href="#f" x="351.53" y="628.42" fill="#2f990c"/>
<use href="#f" x="380.67" y="628.42" fill="#fd9d02"/>
<use href="#f" x="409.81" y="628.42" fill="#d20303"/>
<use href="#f" x="438.95" y="628.42" fill="#2f990c"/>
<use href="#f" x="468.09" y="628.42" fill="#2f990c"/>
<use href="#f" x="497.23" y="628.42" fill="#d20303"/>
<use href="#f" x="526.37" y="628.42" fill="#2f990c"/>
<use href="#f" x="555.51" y="628.42" fill="#2f990c"/>
<use href="#f" x="584.65" y="628.42" fill="#d20303"/>
<use href="#f" x="613.79" y="628.42" fill="#2f990c"/>
<use href="#f" x="642.93" y="628.42" fill="#2f990c"/>
<use href="#f" x="672.07" y="628.42" fill="#2f990c"/>
<use href="#f" x="701.21" y="628.42" fill="#2f990c"/>
<use href="#f" x="730.35" y="628.42" fill="#2f990c"/>
<use href="#f" x="759.49" y="628.42" fill="#2f990c"/>
<use href="#f" x="788.63" y="628.42" fill="#2f990c"/>
<use href="#f" x="817.77" y="628.42" fill="#fd9d02"/>
<use href="#f" x="846.91" y="628.42" fill="#2f990c"/>
<use href="#f" x="147.55" y="657.54" fill="#2f990c"/>
<use href="#f" x="176.69" y="657.54" fill="#2f990c"/>
<use href="#f" x="205.83" y="657.54" fill="#2f990c"/>
<use href="#f" x="234.97" y="657.54" fill="#fd9d02"/>
<use href="#f" x="264.11" y="657.54" fill="#fd9d02"/>
<use href="#f" x="293.25" y="657.54" fill="#2f990c"/>
<use href="#f" x="322.39" y="657.54" fill="#2f990c"/>
<use href="#f" x="351.53" y="657.54" fill="#2f990c"/>
<use href="#f" x="380.67" y="657.54" fill="#2f990c"/>
<use href="#f" x="409.81" y="657.54" fill="#fd9d02"/>
<use href="#f" x="438.95" y="657.54" fill="#2f990c"/>
<use href="#f" x="468.09" y="657.54" fill="#2f990c"/>
<use href="#f" x="497.23" y="657.54" fill="#fd9d02"/>
<use href="#f" x="526.37" y="657.54" fill="#2f990c"/>
<use href="#f" x="555.51" y="657.54" fill="#2f990c"/>
<use href="#f" x="584.65" y="657.54" fill="#fd9d02"/>
<use href="#f" x="613.79" y="657.54" fill="#2f990c"/>
<use href="#f" x="642.93" y="657.54" fill="#2f990c"/>
<use href="#f" x="672.07" y="657.54" fill="#2f990c"/>
<use href="#f" x="701.21" y="657.54" fill="#2f990c"/>
<use href="#f" x="730.35" y="657.54" fill="#2f990c"/>
<use href="#f" x="759.49" y="657.54" fill="#2f990c"/>
<use href="#f" x="788.63" y="657.54" fill="#2f990c"/>
<use href="#f" x="817.77" y="657.54" fill="#fd9d02"/>
<use href="#f" x="846.91" y="657.54" fill="#d20303"/>
<use href="#f" x="147.55" y="686.66" fill="#2f990c"/>
<use href="#f" x="176.69" y="686.66" fill="#2f990c"/>
<use href="#f" x="205.83" y="686.66" fill="#2f990c"/>
<use href="#f" x="234.97" y="686.66" fill="#d20303"/>
<use href="#f" x="264.11" y="686.66" fill="#d20303"/>
<use href="#f" x="293.25" y="686.66" fill="#2f990c"/>
<use href="#f" x="322.39" y="686.66" fill="#2f990c"/>
<use href="#f" x="351.53" y="686.66" fill="#2f990c"/>
<use href="#f" x="380.67" y="686.66" fill="#fd9d02"/>
<use href="#f" x="409.81" y="686.66" fill="#d20303"/>
<use href="#f" x="438.95" y="686.66" fill="#2f990c"/>
<use href="#f" x="468.09" y="686.66" fill="#2f990c"/>
<use href="#f" x="497.23" y="686.66" fill="#d20303"/>
<use href="#f" x="526.37" y="686.66" fill="#2f990c"/>
<use href="#f" x="555.51" y="686.66" fill="#2f990c"/>
<use href="#f" x="584.65" y="686.66" fill="#d20303"/>
<use href="#f" x="613.79" y="686.66" fill="#2f990c"/>
<use href="#f" x="642.93" y="686.66" fill="#2f990c"/>
<use href="#f" x="672.07" y="686.66" fill="#2f990c"/>
<use href="#f" x="701.21" y="686.66" fill="#2f990c"/>
<use href="#f" x="730.35" y="686.66" fill="#2f990c"/>
<use href="#f" x="759.49" y="686.66" fill="#2f990c"/>
<use href="#f" x="788.63" y="686.66" fill="#2f990c"/>
<use href="#f" x="817.77" y="686.66" fill="#fd9d02"/>
<use href="#f" x="846.91" y="686.66" fill="#2f990c"/>
<use href="#f" x="147.55" y="715.78" fill="#2f990c"/>
<use href="#f" x="176.69" y="715.78" fill="#2f990c"/>
<use href="#f" x="205.83" y="715.78" fill="#2f990c"/>
<use href="#f" x="234.97" y="715.78" fill="#d20303"/>
<use href="#f" x="264.11" y="715.78" fill="#d20303"/>
<use href="#f" x="293.25" y="715.78" fill="#2f990c"/>
<use href="#f" x="322.39" y="715.78" fill="#2f990c"/>
<use href="#f" x="351.53" y="715.78" fill="#2f990c"/>
<use href="#f" x="380.67" y="715.78" fill="#fd9d02"/>
<use href="#f" x="409.81" y="715.78" fill="#d20303"/>
<use href="#f" x="438.95" y="715.78" fill="#2f990c"/>
<use href="#f" x="468.09" y="715.78" fill="#2f990c"/>
<use href="#f" x="497.23" y="715.78" fill="#d20303"/>
<use href="#f" x="526.37" y="715.78" fill="#2f990c"/>
<use href="#f" x="555.51" y="715.78" fill="#2f990c"/>
<use href="#f" x="584.65" y="715.78" fill="#d20303"/>
<use href="#f" x="613.79" y="715.78" fill="#2f990c"/>
<use href="#f" x="642.93" y="715.78" fill="#2f990c"/>
<use href="#f" x="672.07" y="715.78" fill="#2f990c"/>
<use href="#f" x="701.21" y="715.78" fill="#2f990c"/>
<use href="#f" x="730.35" y="715.78" fill="#2f990c"/>
<use href="#f" x="759.49" y="715.78" fill="#2f990c"/>
<use href="#f" x="788.63" y="715.78" fill="#2f990c"/>
<use href="#f" x="817.77" y="715.78" fill="#fd9d02"/>
<use href="#f" x="846.91" y="715.78" fill="#2f990c"/>
<use href="#f" x="147.55" y="744.90" fill="#2f990c"/>
<use href="#f" x="176.69" y="744.90" fill="#2f990c"/>
<use href="#f" x="205.83" y="744.90" fill="#d20303"/>
<use href="#f" x="234.97" y="744.90" fill="#fd9d02"/>
<use href="#f" x="264.11" y="744.90" fill="#d20303"/>
<use href="#f" x="293.25" y="744.90" fill="#2f990c"/>
<use href="#f" x="322.39" y="744.90" fill="#2f990c"/>
<use href="#f" x="351.53" y="744.90" fill="#fd9d02"/>
<use href="#f" x="380.67" y="744.90" fill="#fd9d02"/>
<use href="#f" x="409.81" y="744.90" fill="#d20303"/>
<use href="#f" x="438.95" y="744.90" fill="#2f990c"/>
<use href="#f" x="468.09" y="744.90" fill="#fd9d02"/>
<use href="#f" x="497.23" y="744.90" fill="#d20303"/>
<use href="#f" x="526.37" y="744.90" fill="#2f990c"/>
<use href="#f" x="555.51" y="744.90" fill="#2f990c"/>
<use href="#f" x="584.65" y="744.90" fill="#d20303"/>
<use href="#f" x="613.79" y="744.90" fill="#2f990c"/>
<use href="#f" x="642.93" y="744.90" fill="#2f990c"/>
<use href="#f" x="672.07" y="744.90" fill="#2f990c"/>
<use href="#f" x="701.21" y="744.90" fill="#2f990c"/>
<use href="#f" x="730.35" y="744.90" fill="#2f990c"/>
<use href="#f" x="759.49" y="744.90" fill="#2f990c"/>
<use href="#f" x="788.63" y="744.90" fill="#2f990c"/>
<use href="#f" x="817.77" y="744.90" fill="#fd9d02"/>
<use href="#f" x="846.91" y="744.90" fill="#2f990c"/>
<use href="#f" x="147.55" y="774.02" fill="#2f990c"/>
<use href="#f" x="176.69" y="774.02" fill="#2f990c"/>
<use href="#f" x="205.83" y="774.02" fill="#2f990c"/>
<use href="#f" x="234.97" y="774.02" fill="#d20303"/>
<use href="#f" x="264.11" y="774.02" fill="#d20303"/>
<use href="#f" x="293.25" y="774.02" fill="#2f990c"/>
<use href="#f" x="322.39" y="774.02" fill="#2f990c"/>
<use href="#f" x="351.53" y="774.02" fill="#2f990c"/>
<use href="#f" x="380.67" y="774.02" fill="#fd9d02"/>
<use href="#f" x="409.81" y="774.02" fill="#d20303"/>
<use href="#f" x="438.95" y="774.02" fill="#2f990c"/>
<use href="#f" x="468.09" y="774.02" fill="#2f990c"/>
<use href="#f" x="497.23" y="774.02" fill="#d20303"/>
<use href="#f" x="526.37" y="774.02" fill="#2f990c"/>
<use href="#f" x="555.51" y="774.02" fill="#2f990c"/>
<use href="#f" x="584.65" y="774.02" fill="#d20303"/>
<use href="#f" x="613.79" y="774.02" fill="#2f990c"/>
<use href="#f" x="642.93" y="774.02" fill="#2f990c"/>
<use href="#f" x="672.07" y="774.02" fill="#2f990c"/>
<use href="#f" x="701.21" y="774.02" fill="#2f990c"/>
<use href="#f" x="730.35" y="774.02" fill="#2f990c"/>
<use href="#f" x="759.49" y="774.02" fill="#2f990c"/>
<use href="#f" x="788.63" y="774.02" fill="#2f990c"/>
<use href="#f" x="817.77" y="774.02" fill="#fd9d02"/>
<use href="#f" x="846.91" y="774.02" fill="#2f990c"/>
<use href="#f" x="147.55" y="803.14" fill="#2f990c"/>
<use href="#f" x="176.69" y="803.14" fill="#2f990c"/>
<use href="#f" x="205.83" y="803.14" fill="#2f990c"/>
<use href="#f" x="234.97" y="803.14" fill="#d20303"/>
<use href="#f" x="264.11" y="803.14" fill="#d20303"/>
<use href="#f" x="293.25" y="803.14" fill="#2f990c"/>
<use href="#f" x="322.39" y="803.14" fill="#2f990c"/>
<use href="#f" x="351.53" y="803.14" fill="#2f990c"/>
<use href="#f" x="380.67" y="803.14" fill="#fd9d02"/>
<use href="#f" x="409.81" y="803.14" fill="#d20303"/>
<use href="#f" x="438.95" y="803.14" fill="#2f990c"/>
<use href="#f" x="468.09" y="803.14" fill="#2f990c"/>
<use href="#f" x="497.23" y="803.14" fill="#d20303"/>
<use href="#f" x="526.37" y="803.14" fill="#2f990c"/>
<use href="#f" x="555.51" y="803.14" fill="#2f990c"/>
<use href="#f" x="584.65" y="803.14" fill="#d20303"/>
<use href="#f" x="613.79" y="803.14" fill="#2f990c"/>
<use href="#f" x="642.93" y="803.14" fill="#2f990c"/>
<use href="#f" x="672.07" y="803.14" fill="#2f990c"/>
<use href="#f" x="701.21" y="803.14" fill="#2f990c"/>
<use href="#f" x="730.35" y="803.14" fill="#2f990c"/>
<use href="#f" x="759.49" y="803.14" fill="#2f990c"/>
<use href="#f" x="788.63" y="803.14" fill="#2f990c"/>
<use href="#f" x="817.77" y="803.14" fill="#fd9d02"/>
<use href="#f" x="846.91" y="803.14" fill="#2f990c"/>
<use href="#f" x="147.55" y="832.26" fill="#fd9d02"/>
<use href="#f" x="176.69" y="832.26" fill="#fd9d02"/>
<use href="#f" x="205.83" y="832.26" fill="#fd9d02"/>
<use href="#f" x="234.97" y="832.26" fill="#fd9d02"/>
<use href="#f" x="264.11" y="832.26" fill="#d20303"/>
<use href="#f" x="293.25" y="832.26" fill="#fd9d02"/>
<use href="#f" x="322.39" y="832.26" fill="#fd9d02"/>
<use href="#f" x="351.53" y="832.26" fill="#fd9d02"/>
<use href="#f" x="380.67" y="832.26" fill="#d20303"/>
<use href="#f" x="409.81" y="832.26" fill="#d20303"/>
<use href="#f" x="438.95" y="832.26" fill="#fd9d02"/>
<use href="#f" x="468.09" y="832.26" fill="#fd9d02"/>
<use href="#f" x="497.23" y="832.26" fill="#d20303"/>
<use href="#f" x="526.37" y="832.26" fill="#fd9d02"/>
<use href="#f" x="555.51" y="832.26" fill="#fd9d02"/>
<use href="#f" x="584.65" y="832.26" fill="#d20303"/>
<use href="#f" x="613.79" y="832.26" fill="#fd9d02"/>
<use href="#f" x="642.93" y="832.26" fill="#fd9d02"/>
<use href="#f" x="672.07" y="832.26" fill="#fd9d02"/>
<use href="#f" x="701.21" y="832.26" fill="#fd9d02"/>
<use href="#f" x="730.35" y="832.26" fill="#fd9d02"/>
<use href="#f" x="759.49" y="832.26" fill="#fd9d02"/>
<use href="#f" x="788.63" y="832.26" fill="#fd9d02"/>
<use href="#f" x="817.77" y="832.26" fill="#fd9d02"/>
<use href="#f" x="846.91" y="832.26" fill="#2f990c"/>
<use href="#f" x="147.55" y="861.38" fill="#2f990c"/>
<use href="#f" x="176.69" y="861.38" fill="#2f990c"/>
<use href="#f" x="205.83" y="861.38" fill="#2f990c"/>
<use href="#f" x="234.97" y="861.38" fill="#2f990c"/>
<use href="#f" x="264.11" y="861.38" fill="#d20303"/>
<use href="#f" x="293.25" y="861.38" fill="#2f990c"/>
<use href="#f" x="322.39" y="861.38" fill="#2f990c"/>
<use href="#f" x="351.53" y="861.38" fill="#2f990c"/>
<use href="#f" x="380.67" y="861.38" fill="#2f990c"/>
<use href="#f" x="409.81" y="861.38" fill="#2f990c"/>
<use href="#f" x="438.95" y="861.38" fill="#2f990c"/>
<use href="#f" x="468.09" y="861.38" fill="#2f990c"/>
<use href="#f" x="497.23" y="861.38" fill="#2f990c"/>
<use href="#f" x="526.37" y="861.38" fill="#2f990c"/>
<use href="#f" x="555.51" y="861.38" fill="#2f990c"/>
<use href="#f" x="584.65" y="861.38" fill="#d20303"/>
<use href="#f" x="613.79" y="861.38" fill="#2f990c"/>
<use href="#f" x="642.93" y="861.38" fill="#d20303"/>
<use href="#f" x="672.07" y="861.38" fill="#2f990c"/>
<use href="#f" x="701.21" y="861.38" fill="#2f990c"/>
<use href="#f" x="730.35" y="861.38" fill="#2f990c"/>
<use href="#f" x="759.49" y="861.38" fill="#2f990c"/>
<use href="#f" x="788.63" y="861.38" fill="#2f990c"/>
<use href="#f" x="817.77" y="861.38" fill="#2f990c"/>
<use href="#f" x="846.91" y="861.38" fill="#2f990c"/>
<use href="#f" x="4.2" y="903.7" fill="#2f990c"/>
<text x="42.2" y="910.7" font-size="16" fill="#111" stroke="#111" stroke-width="0.45" textLength="194" lengthAdjust="spacing">Generally Compatible</text>
<use href="#f" x="4.2" y="942" fill="#d20303"/>
<text x="42.2" y="948.6" font-size="16" fill="#111" stroke="#111" stroke-width="0.45" textLength="138.5" lengthAdjust="spacing">Not Compatible</text>
<use href="#f" x="4.2" y="978" fill="#fd9d02"/>
<text x="42.2" y="985.2" font-size="16" fill="#111" stroke="#111" stroke-width="0.45" textLength="177.5" lengthAdjust="spacing">Can Usually Coexist</text>
</svg></body></html>
